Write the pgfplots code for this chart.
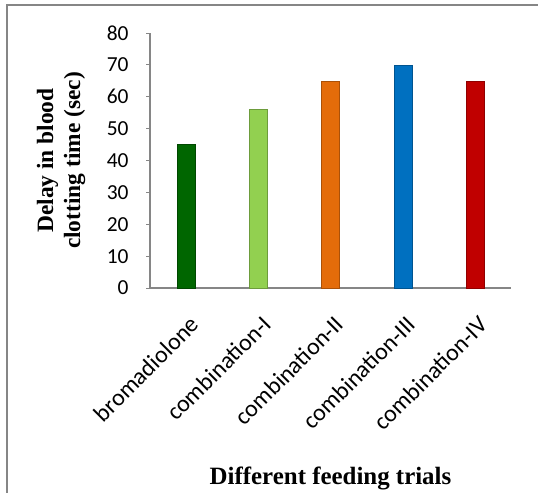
\documentclass[border=0pt]{standalone}
\usepackage{fontspec}
\setmainfont{Carlito}
\newfontfamily\tnr{Liberation Serif}
\usepackage{pgfplots}
\pgfplotsset{compat=1.18}
\definecolor{cdg}{RGB}{0,102,0}
\definecolor{clg}{RGB}{146,208,80}
\definecolor{cor}{RGB}{228,108,10}
\definecolor{cbl}{RGB}{0,112,192}
\definecolor{crd}{RGB}{192,0,0}
\definecolor{axgray}{RGB}{134,134,134}
\begin{document}
\begin{tikzpicture}
\path[use as bounding box] (0,0) rectangle (538bp,493bp);
\draw[axgray, line width=1.5bp] (7bp,0) -- (7bp,488bp) -- (538bp,488bp);
\begin{axis}[
  at={(150bp,205bp)}, anchor=south west,
  scale only axis, width=361bp, height=255bp,
  xmin=-0.5, xmax=4.5, ymin=0, ymax=80,
  axis lines=left, axis line style={axgray, line width=1.5bp, -},
  ytick={0,10,...,80},
  xtick={0,1,2,3,4},
  xticklabels={bromadiolone,combination-I,combination-II,combination-III,combination-IV},
  tick align=outside,
  major tick length=4bp,
  ytick style={axgray, line width=1bp},
  xtick style={draw=none},
  /pgf/number format/assume math mode=true,
  yticklabel style={font=\fontsize{21.5}{25}\selectfont, xshift=-14bp},
  xticklabel style={font=\fontsize{24}{28}\selectfont, xshift=11bp, yshift=-26bp, rotate=45, anchor=east},
  ylabel={Delay in blood\\clotting time (sec)},
  ylabel style={at={(axis description cs:-0.2465,0.5)}, anchor=center, align=center,
    font=\tnr\bfseries\fontsize{23.5}{27}\selectfont},
  xlabel={Different feeding trials},
  xlabel style={at={(axis description cs:0.5,-0.7725)}, anchor=base,
    font=\tnr\bfseries\fontsize{25}{29}\selectfont},
  ybar, bar width=18bp,
  clip=false,
]
\addplot[ybar, bar shift=0pt, fill=cdg, draw=cdg!70!black] coordinates {(0,45)};
\addplot[ybar, bar shift=0pt, fill=clg, draw=clg!75!black] coordinates {(1,56)};
\addplot[ybar, bar shift=0pt, fill=cor, draw=cor!75!black] coordinates {(2,65)};
\addplot[ybar, bar shift=0pt, fill=cbl, draw=cbl!75!black] coordinates {(3,70)};
\addplot[ybar, bar shift=0pt, fill=crd, draw=crd!75!black] coordinates {(4,65)};
\end{axis}
\end{tikzpicture}
\end{document}
